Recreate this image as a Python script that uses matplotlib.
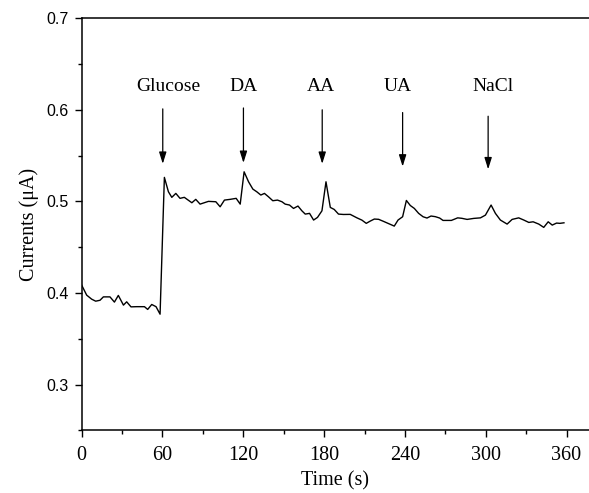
import matplotlib
matplotlib.use("Agg")
import matplotlib.pyplot as plt
from matplotlib.ticker import MultipleLocator

time_s = [0, 3.7, 7.4, 10.4, 13.6, 16.1, 21.0, 24.3, 27.2, 31.0, 33.4, 36.6, 40.8, 46.6,
          49.0, 52.0, 55.2, 58.2, 61.4, 64.4, 66.9, 69.9, 73.0, 76.2, 81.8, 84.7, 87.9,
          94.1, 99.6, 102.8, 106.0, 110.2, 114.7, 117.7, 120.6, 123.9, 127.1, 130.0,
          133.0, 135.7, 138.7, 141.9, 145.4, 148.7, 151.1, 154.3, 157.3, 160.6, 163.5,
          166.0, 169.2, 172.2, 175.1, 178.4, 181.4, 184.6, 187.5, 190.7, 194.4, 199.4,
          204.4, 208.1, 211.3, 214.3, 217.3, 220.5, 224.2, 228.7, 232.1, 234.9, 238.3,
          241.1, 244.0, 247.0, 250.2, 253.5, 256.4, 259.4, 262.6, 265.8, 268.3, 274.5,
          279.2, 282.3, 286.2, 291.1, 296.1, 299.8, 304.0, 307.2, 310.9, 315.9, 319.6,
          324.5, 328.3, 332.0, 335.2, 339.4, 343.1, 346.4, 349.4, 352.6, 355.1, 358.1]
current_uA = [0.4085, 0.3976, 0.3932, 0.3910, 0.3920, 0.3957, 0.3957, 0.3900, 0.3973,
              0.3867, 0.3903, 0.3848, 0.3850, 0.3850, 0.3820, 0.3874, 0.3850, 0.3768,
              0.5262, 0.5105, 0.5044, 0.5087, 0.5033, 0.5044, 0.4985, 0.5022, 0.4970,
              0.5000, 0.4996, 0.4941, 0.5014, 0.5022, 0.5033, 0.4970, 0.5323, 0.5214,
              0.5134, 0.5105, 0.5069, 0.5087, 0.5050, 0.5007, 0.5014, 0.4996, 0.4970,
              0.4960, 0.4923, 0.4949, 0.4897, 0.4861, 0.4869, 0.4796, 0.4825, 0.4897,
              0.5214, 0.4934, 0.4912, 0.4861, 0.4857, 0.4858, 0.4820, 0.4795, 0.4760,
              0.4785, 0.4807, 0.4804, 0.4781, 0.4752, 0.4730, 0.4796, 0.4832, 0.5010,
              0.4955, 0.4923, 0.4869, 0.4832, 0.4818, 0.4840, 0.4833, 0.4818, 0.4792,
              0.4792, 0.4820, 0.4815, 0.4803, 0.4814, 0.4820, 0.4850, 0.4960, 0.4869,
              0.4796, 0.4752, 0.4803, 0.4820, 0.4796, 0.4770, 0.4777, 0.4752, 0.4716,
              0.4777, 0.4741, 0.4763, 0.4760, 0.4766]

labels = ["Glucose", "DA", "AA", "UA", "NaCl"]
label_x = [64.4, 120.4, 177.5, 234.9, 305.5]
label_y = [0.625, 0.625, 0.625, 0.625, 0.625]
arrow_x = [60.2, 120.1, 178.6, 238.3, 301.8]
arrow_top = [0.601, 0.602, 0.600, 0.597, 0.593]
arrow_tip = [0.541, 0.542, 0.541, 0.538, 0.535]

x_ticks = [0, 60, 120, 180, 240, 300, 360]
y_ticks = [0.3, 0.4, 0.5, 0.6, 0.7]

fig = plt.figure(figsize=(5.89, 4.93), dpi=100)
ax = fig.add_axes([0.1387, 0.1272, 1.0 - 0.1387, 0.963 - 0.1272])

ax.plot(time_s, current_uA, color="black", lw=1.0)

for lab, lx, ly in zip(labels, label_x, label_y):
    ax.text(lx, ly, lab, ha="center", va="center", fontsize=14,
            family="Liberation Serif")
for axx, top, tip in zip(arrow_x, arrow_top, arrow_tip):
    ax.annotate("", xy=(axx, tip), xytext=(axx, top),
                arrowprops=dict(arrowstyle="-|>,head_length=0.7,head_width=0.22",
                                lw=0.9, color="black", shrinkA=0, shrinkB=0))

ax.set_xlim(0, 376.7)
ax.set_ylim(0.25, 0.7)
ax.set_xticks(x_ticks)
ax.set_yticks(y_ticks)
ax.xaxis.set_minor_locator(MultipleLocator(30))
ax.yaxis.set_minor_locator(MultipleLocator(0.05))
ax.tick_params(which="major", direction="out", length=5, width=1.0)
ax.tick_params(which="minor", direction="out", length=3, width=1.0)
ax.tick_params(axis="x", which="major", pad=6.5)
ax.tick_params(axis="y", which="major", pad=4.5)
for lbl in ax.get_xticklabels():
    lbl.set_fontfamily("Liberation Serif")
    lbl.set_fontsize(14.5)
for lbl in ax.get_yticklabels():
    lbl.set_fontfamily("Liberation Sans")
    lbl.set_fontsize(11.5)

ax.spines["right"].set_visible(False)
for s in ["left", "bottom", "top"]:
    ax.spines[s].set_linewidth(1.1)

ax.set_xlabel("Time (s)", fontsize=14.5, family="Liberation Serif", labelpad=4.5)
ax.set_ylabel("Currents (μA)", fontsize=14.5, family="Liberation Serif", labelpad=5)

fig.savefig("out.png", dpi=100)
